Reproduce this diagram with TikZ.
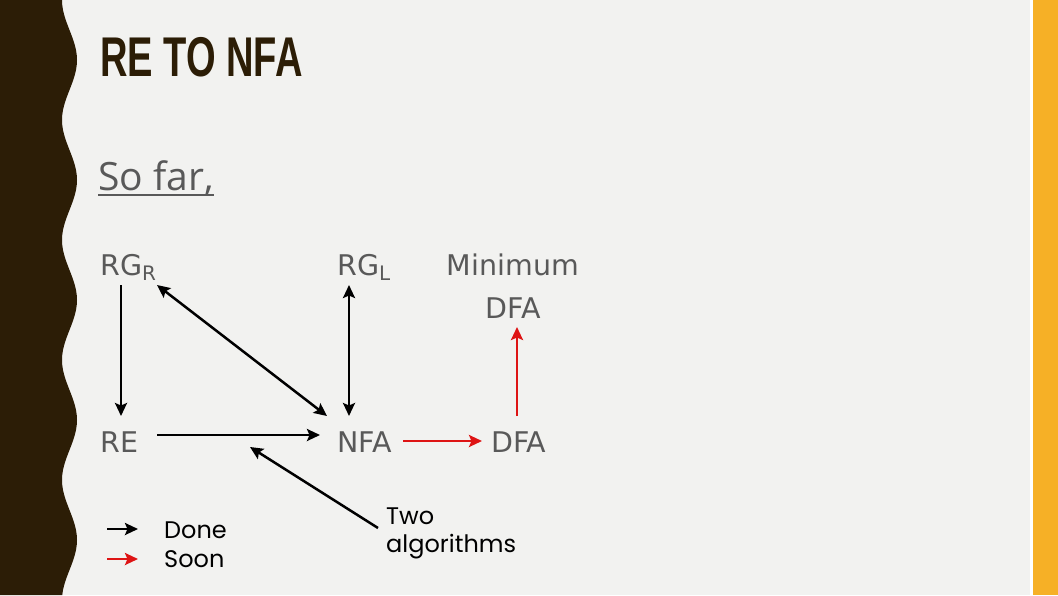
\documentclass[tikz,border=0pt]{standalone}
\usepackage{fontspec}
\setmainfont{DejaVu Sans}
\newfontfamily\titlefont{Liberation Sans}
\newfontfamily\slidefont{Open Sans}
\newfontfamily\notefont{Poppins}
\usetikzlibrary{arrows.meta,positioning}
\definecolor{SlideBg}{RGB}{242,242,240}
\definecolor{BarBrown}{RGB}{44,29,6}
\definecolor{BarGold}{RGB}{246,176,38}
\definecolor{TextGray}{RGB}{89,89,89}
\definecolor{SoonRed}{RGB}{222,20,20}

\begin{document}
\begin{tikzpicture}[x=1pt,y=-1pt,>={Stealth[length=13pt,width=12pt,inset=2.5pt]},
    lab/.style={anchor=base west,inner sep=0pt,text=TextGray,font=\fontsize{28.5}{34}\selectfont},
    note/.style={anchor=base west,inner sep=0pt,text=black,font=\notefont\fontsize{24}{28}\selectfont},
    done/.style={->,line width=2.5pt,black},
    soon/.style={->,line width=2.5pt,SoonRed}]
      % slide background and side bars
      \fill[SlideBg] (0,0) rectangle (1058,595);
      \fill[BarBrown] (0,0) -- plot[domain=0:595,samples=120] ({69.5-7.5*cos(3*\x)},\x) -- (0,595) -- cycle;
      \fill[white] (1030,0) rectangle (1033,595);
      \fill[BarGold] (1033,0) rectangle (1058,595);
      % headings
      \node[anchor=base west,inner sep=0pt,text=BarBrown] (title) at (100,76)
        {\scalebox{0.68}[1]{\titlefont\bfseries\fontsize{56}{56}\selectfont RE TO NFA}};
      \node[anchor=base west,inner sep=0pt,text=TextGray,font=\slidefont\fontsize{39}{44}\selectfont] (sofar) at (98,190) {So far,};
      \draw[TextGray,line width=2.5pt] ([yshift=-5pt]sofar.base west) -- ([yshift=-5pt]sofar.base east);
      % the languages
      \node[lab] (rgr) at (100,275) {RG\textsubscript{R}};
      \node[lab] (rgl) at (337,275) {RG\textsubscript{L}};
      \node[lab,anchor=base,align=center,font=\fontsize{28.5}{43}\selectfont] (mindfa) at (513,318) {Minimum\\DFA};
      \node[lab] (re) at (100,452) {RE};
      \node[lab] (nfa) at (337,452) {NFA};
      \node[lab] (dfa) at (491,452) {DFA};
      % arrow ends
      \coordinate (rgr-s) at (121,285);
      \coordinate (re-n) at (121,416);
      \coordinate (rgr-se) at (157,285);
      \coordinate (nfa-nw) at (327,416);
      \coordinate (rgl-s) at (349,285);
      \coordinate (nfa-n) at (349,416);
      \coordinate (re-e) at (157,435);
      \coordinate (nfa-w) at (320,435);
      \coordinate (nfa-e) at (403,441);
      \coordinate (dfa-w) at (482,441);
      \coordinate (dfa-n) at (517,416);
      \coordinate (mindfa-s) at (517,327);
      \draw[done] (rgr-s)--(re-n);
      \draw[done,<->] (rgr-se)--(nfa-nw);
      \draw[done,<->] (rgl-s)--(nfa-n);
      \draw[done] (re-e)--(nfa-w);
      \draw[soon] (nfa-e)--(dfa-w);
      \draw[soon] (dfa-n)--(mindfa-s);
      % note on the RE to NFA step
      \node[note,align=left] (twoalg) at (386,552) {Two\\algorithms};
      \coordinate (twoalg-tail) at (378,528);
      \coordinate (renfa-mid) at (250,447);
      \draw[done] (twoalg-tail)--(renfa-mid);
      % legend
      \node[note] (donelab) at (164,538) {Done};
      \node[note] (soonlab) at (164,567) {Soon};
      \coordinate (done-a) at (107,529);
      \coordinate (done-b) at (138,529);
      \coordinate (soon-a) at (107,559);
      \coordinate (soon-b) at (138,559);
      \draw[done] (done-a)--(done-b);
      \draw[soon] (soon-a)--(soon-b);
    \end{tikzpicture}
\end{document}
